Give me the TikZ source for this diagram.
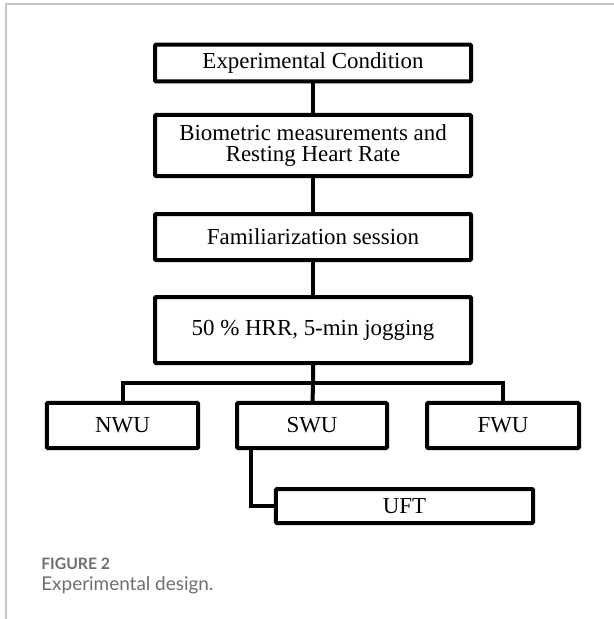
\documentclass[tikz,border=0pt]{standalone}
\usepackage{fontspec}
\setmainfont{Liberation Serif}
\newfontfamily\capfont{Lato}
\definecolor{framegray}{HTML}{C4C4C4}
\definecolor{capgray}{HTML}{6E6E6E}
\tikzset{
  stage/.style={draw, line width=3pt, rounded corners=0.8pt, inner sep=0pt,
    align=center, font=\fontsize{17.2}{16}\selectfont},
  link/.style={line width=3pt},
}
\begin{document}
\begin{tikzpicture}[x=0.75pt, y=-0.75pt]
  \useasboundingbox (0,0) rectangle (614,619);

  % frame
  \draw[framegray, line width=1.1pt] (6,619) -- (6,4) -- (614,4);

  % main column
  \node[stage, minimum width=237pt, minimum height=27.5pt] (cond) at (313,63) {Experimental Condition};
  \node[stage, minimum width=237pt, minimum height=46pt] (bio) at (313,145.5) {Biometric measurements and\\Resting Heart Rate};
  \node[stage, minimum width=237pt, minimum height=34.5pt] (fam) at (313,237) {Familiarization session};
  \node[stage, minimum width=237pt, minimum height=49.5pt] (jog) at (313,330) {50 \% HRR, 5-min jogging};

  % warm-up groups
  \node[stage, minimum width=113.5pt, minimum height=34pt] (nwu) at (122.5,425.5) {NWU};
  \node[stage, minimum width=112.5pt, minimum height=34pt] (swu) at (312,425.5) {SWU};
  \node[stage, minimum width=114pt, minimum height=34pt] (fwu) at (503,425.5) {FWU};
  \node[stage, minimum width=193pt, minimum height=25.5pt] (uft) at (404.5,506) {UFT};

  \coordinate (bus) at (313,383);
  \coordinate (turn) at (251,506);

  \draw[link] (cond) -- (bio);
  \draw[link] (bio) -- (fam);
  \draw[link] (fam) -- (jog);
  \draw[link] (jog) -- (bus) -- (swu);
  \draw[link] (nwu.north) |- (bus) -| (fwu.north);
  \draw[link] (swu.south west -| turn) -- (turn) -- (uft.west);

  % caption
  \node[anchor=base west, inner sep=0pt, text=capgray, font=\capfont\bfseries\fontsize{11.8}{13}\selectfont] (fig) at (41,569) {FIGURE 2};
  \node[anchor=base west, inner sep=0pt, text=capgray, font=\capfont\fontsize{14.2}{16}\selectfont] (cap) at (41,590) {Experimental design.};
\end{tikzpicture}
\end{document}
